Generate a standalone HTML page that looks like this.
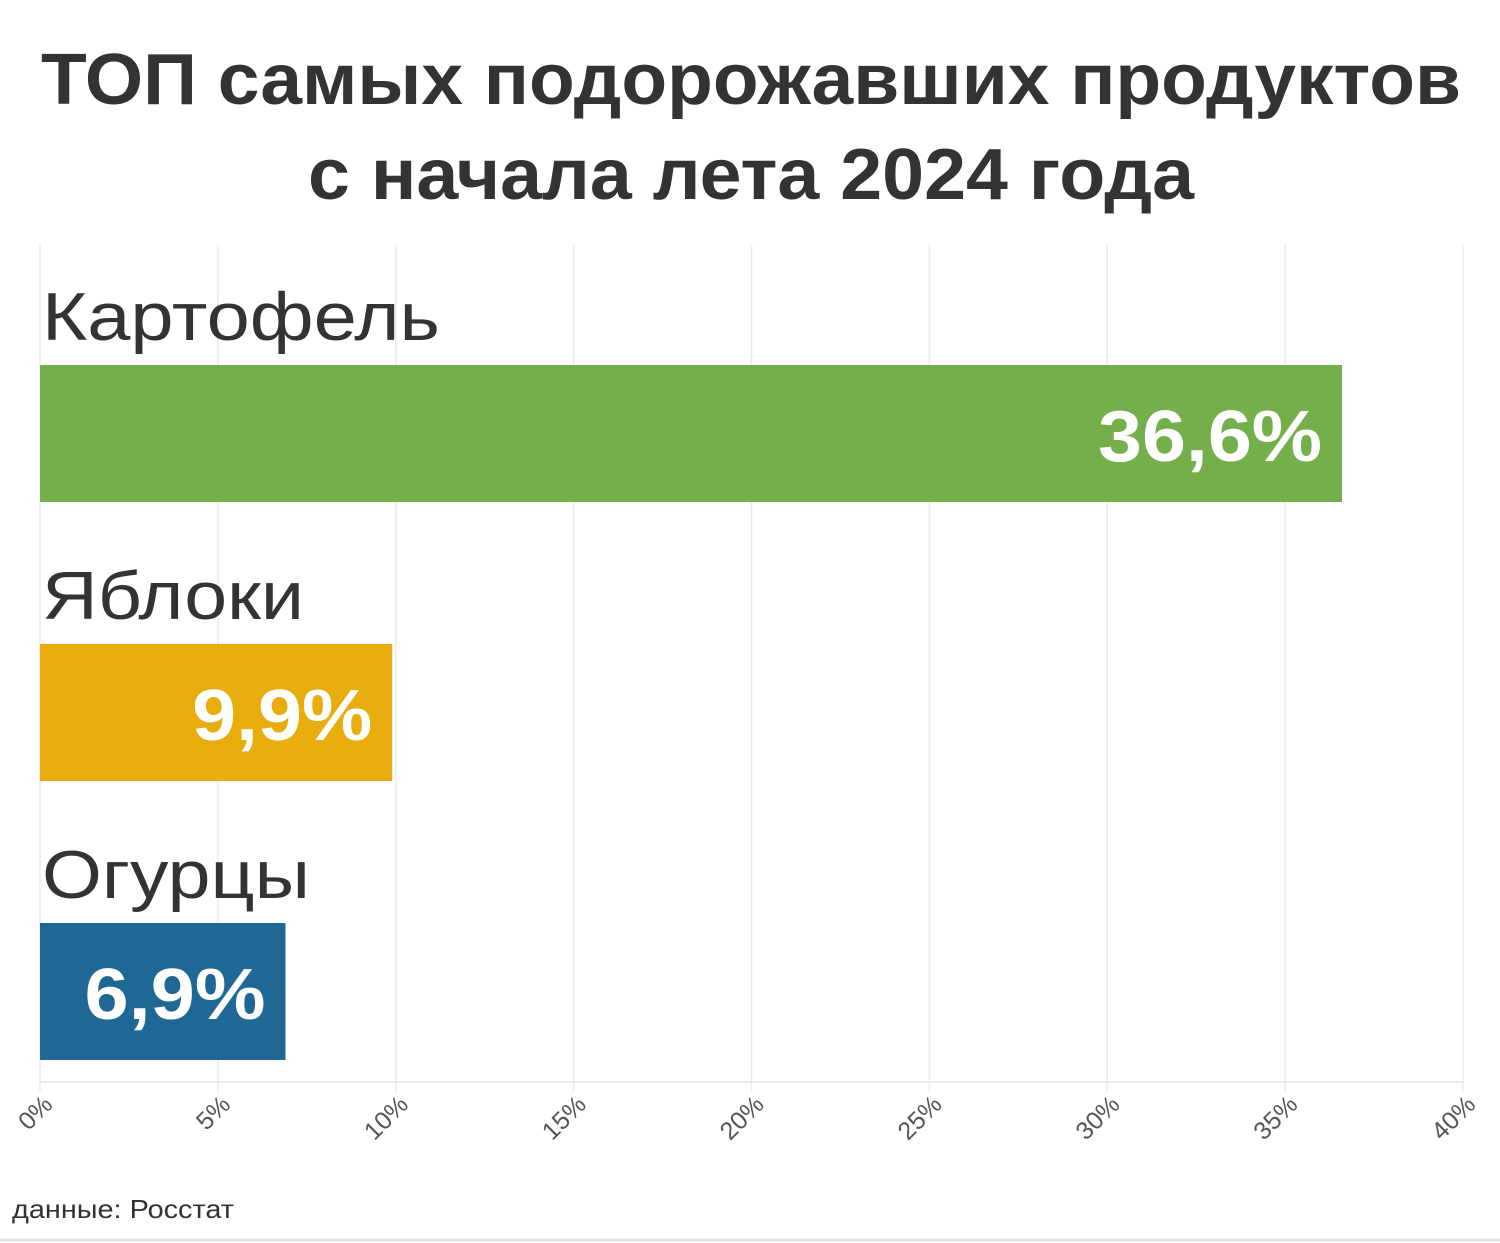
<!DOCTYPE html>
<html><head><meta charset="utf-8"><style>
html,body{margin:0;padding:0;background:#fff;width:1500px;height:1243px;overflow:hidden}
svg{display:block;font-family:"Liberation Sans","DejaVu Sans",sans-serif}
</style></head><body>
<svg id="chart" width="1500" height="1243" viewBox="0 0 1500 1243">
<rect x="0" y="0" width="1500" height="1243" fill="#fff"/>
<line x1="0" y1="1240" x2="1500" y2="1240" stroke="#e4e4e4" stroke-width="3"/>
<text x="751" y="104" text-anchor="middle" font-size="72" font-weight="bold" fill="#333" textLength="1420" lengthAdjust="spacingAndGlyphs">ТОП самых подорожавших продуктов</text>
<text x="751" y="199" text-anchor="middle" font-size="72" font-weight="bold" fill="#333" textLength="886" lengthAdjust="spacingAndGlyphs">с начала лета 2024 года</text>
<g id="grid"></g><g id="bars"></g><g id="axis"></g>
<text x="12" y="1218" font-size="26" fill="#333" textLength="222" lengthAdjust="spacingAndGlyphs">данные: Росстат</text>
</svg>
<script>
const categories = ["Картофель","Яблоки","Огурцы"];
const values = [36.6, 9.9, 6.9];
const valueLabels = ["36,6%","9,9%","6,9%"];
const colors = ["#74af4b","#e8ad0c","#1f6896"];
const ticks = [0,5,10,15,20,25,30,35,40];
const tickLabels = ["0%","5%","10%","15%","20%","25%","30%","35%","40%"];
const labelWidths = [398, 262, 268];

const NS="http://www.w3.org/2000/svg";
const x0=40,x1=1463,xmax=40;
const xs=v=>x0+(x1-x0)*v/xmax;
const bandTop=245, band=279, barOff=120, barH=137;
function mk(t,a,p){const e=document.createElementNS(NS,t);for(const k in a)e.setAttribute(k,a[k]);p.appendChild(e);return e;}
const grid=document.getElementById('grid'),bars=document.getElementById('bars'),axis=document.getElementById('axis');
ticks.forEach((t,i)=>{
  const g=mk('line',{x1:xs(t),x2:xs(t),y1:bandTop,y2:1092,stroke:'#ebebeb','stroke-width':1.5},grid);
  
  
  const x=xs(t)+14,y=1106;
  const l=mk('text',{x:x,y:y,'text-anchor':'end','font-size':25,fill:'#555',transform:`rotate(-45 ${x} ${y})`},axis);
  l.textContent=tickLabels[i];
  
  
});
const base=mk('line',{x1:x0,x2:x1,y1:1082,y2:1082,stroke:'#e6e6e6','stroke-width':1.5},axis);


const valueWidths=[224,180,181];
categories.forEach((c,i)=>{
  const top=bandTop+band*i;
  const lab=mk('text',{x:42,y:top+95,'font-size':68,fill:'#333',textLength:labelWidths[i],lengthAdjust:'spacingAndGlyphs'},bars);
  lab.textContent=c;
  
  
  const r=mk('rect',{x:x0,y:top+barOff,width:xs(values[i])-x0,height:barH,fill:colors[i]},bars);
  
  
  const v=mk('text',{x:xs(values[i])-20,y:top+barOff+96,'text-anchor':'end','font-size':72,'font-weight':'bold',fill:'#fff',textLength:valueWidths[i],lengthAdjust:'spacingAndGlyphs'},bars);
  v.textContent=valueLabels[i];
  
  
});
</script>
</body></html>
